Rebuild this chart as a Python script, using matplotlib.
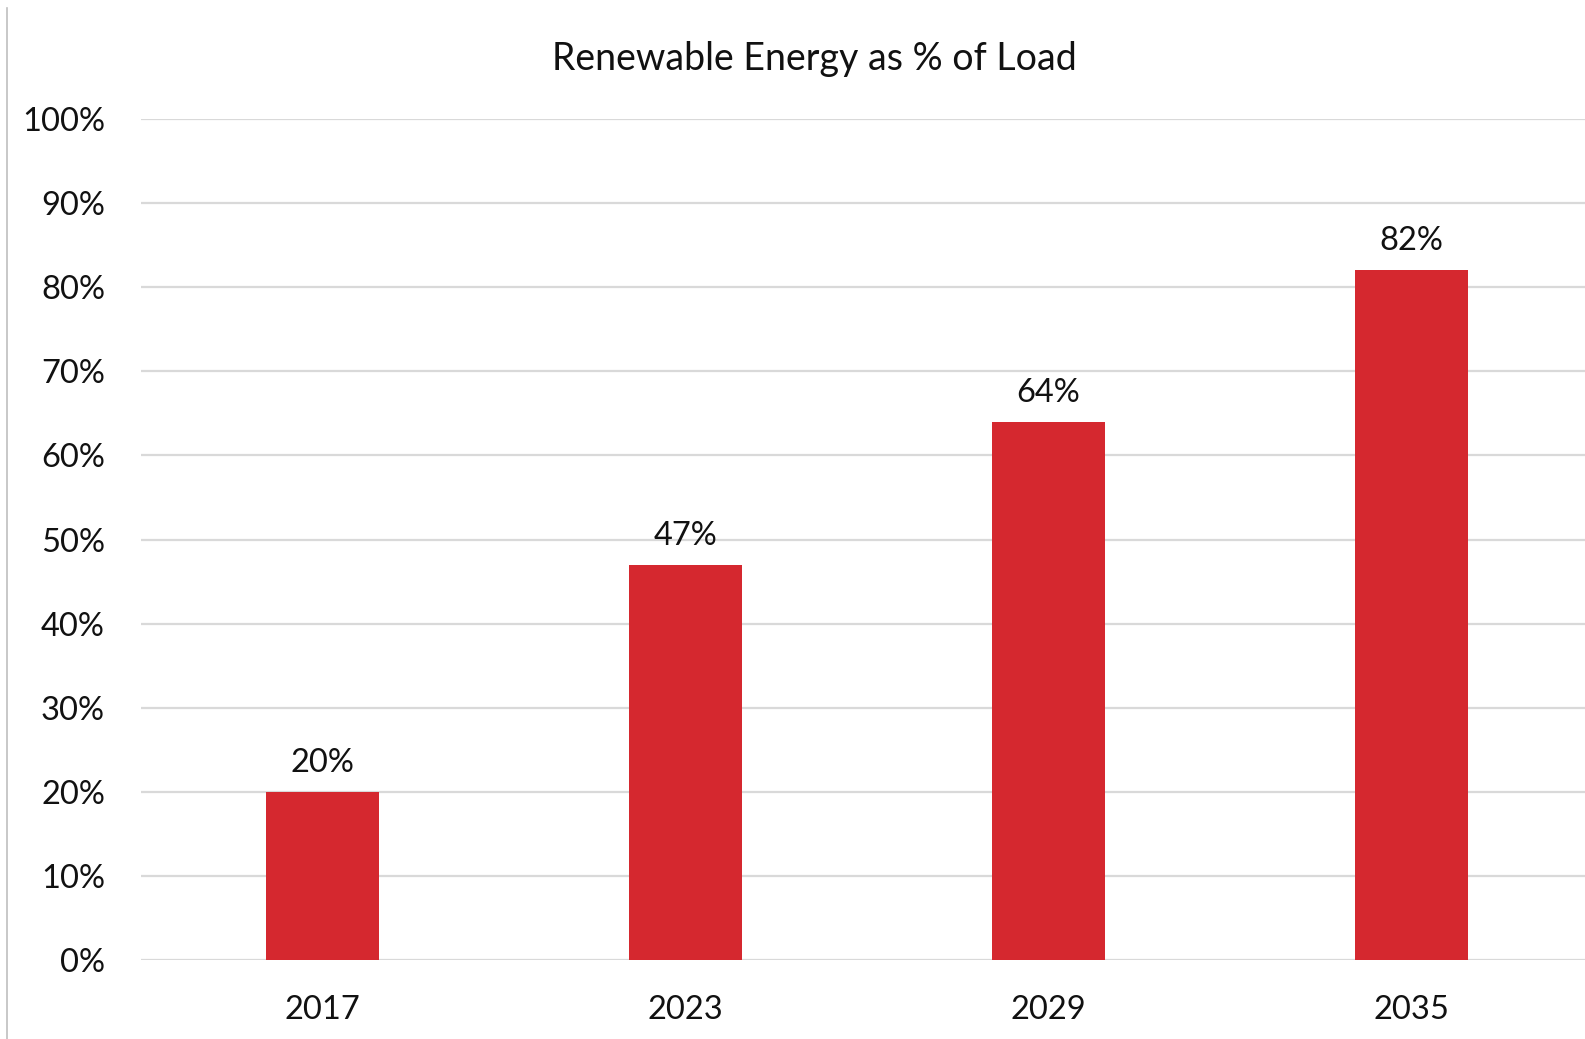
import matplotlib
matplotlib.use("Agg")
from matplotlib import pyplot as plt
from matplotlib.lines import Line2D
from matplotlib.ticker import FuncFormatter


# Chart data
years = ["2017", "2023", "2029", "2035"]
renewable_pct = [20, 47, 64, 82]
y_ticks = list(range(0, 101, 10))

bar_color = "#D5282F"
grid_color = "#D9D9D9"
text_color = "#111111"

plt.rcParams["font.family"] = ["Lato", "DejaVu Sans"]

W, H = 1585, 1039
fig = plt.figure(figsize=(W / 100, H / 100), dpi=100)

# plot area in pixels: left edge 141, bottom 960, top 119, one category = 363 px
left, right, top, bottom = 141, 141 + 363 * 4, 119, 960
ax = fig.add_axes([left / W, 1 - bottom / H, (right - left) / W, (bottom - top) / H])

x = list(range(len(years)))
ax.bar(x, renewable_pct, width=0.31, color=bar_color, zorder=3)

for xi, v in zip(x, renewable_pct):
    ax.annotate(f"{v}%", (xi, v), xytext=(0, 10), textcoords="offset points",
                ha="center", va="bottom", fontsize=23.5, color=text_color)

ax.set_xlim(-0.5, len(years) - 0.5)
ax.set_ylim(0, 100)
ax.set_yticks(y_ticks)
ax.yaxis.set_major_formatter(FuncFormatter(lambda v, p: f"{v:.0f}%"))
ax.set_xticks(x)
ax.set_xticklabels(years)
ax.tick_params(axis="both", length=0, labelsize=23.5, labelcolor=text_color)
ax.tick_params(axis="y", pad=26)
ax.tick_params(axis="x", pad=25)

ax.grid(axis="y", color=grid_color, linewidth=1.6, zorder=0)
for sp in ax.spines.values():
    sp.set_visible(False)

fig.text(814 / W, 1 - 59 / H, "Renewable Energy as % of Load", ha="center",
         va="center", fontsize=27, color=text_color)

# thin border at the left edge of the chart
fig.add_artist(Line2D([6.5 / W, 6.5 / W], [0, 1 - 8 / H], color="#BFBFBF",
                      linewidth=1.2, transform=fig.transFigure))

plt.savefig("out.png", dpi=100)
